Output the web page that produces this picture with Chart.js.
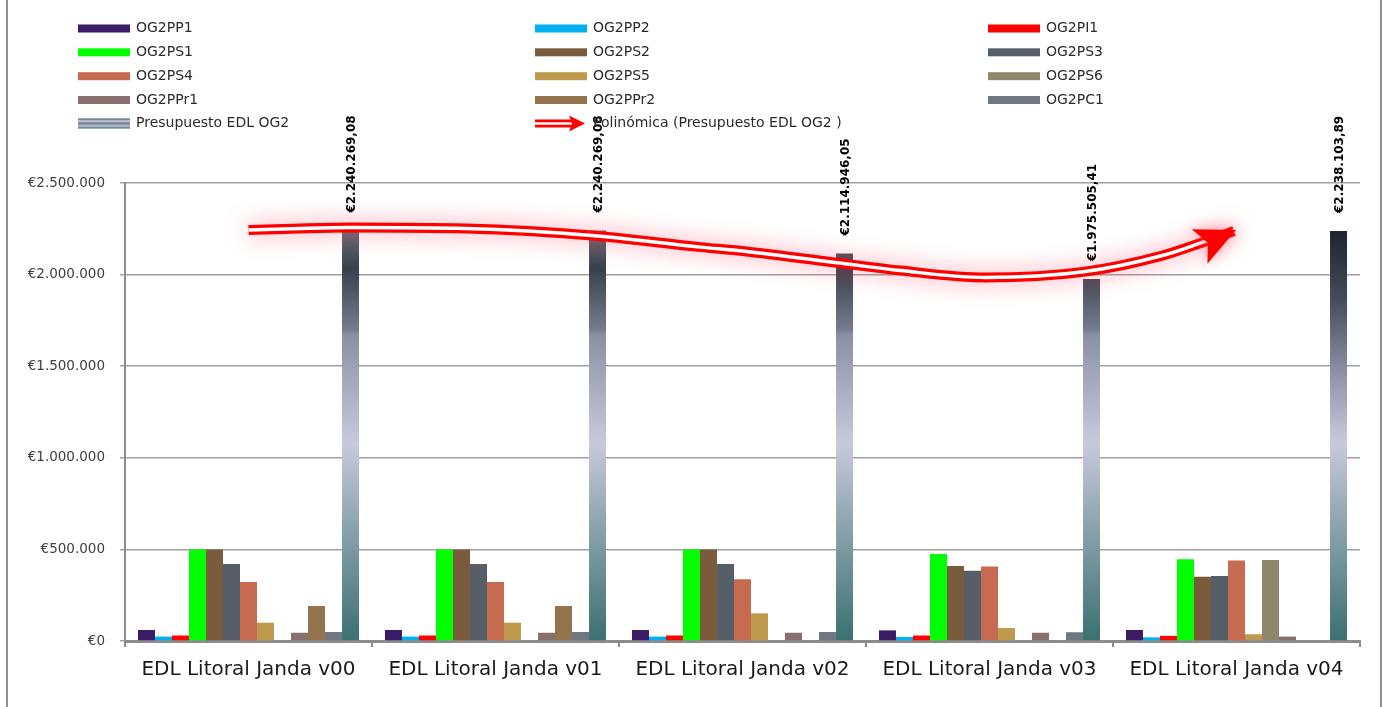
<!DOCTYPE html>
<html><head><meta charset="utf-8">
<script src="https://cdn.jsdelivr.net/npm/chart.js@4.4.1/dist/chart.umd.min.js"></script>
<style>
html,body{margin:0;padding:0;background:#fff;}
#wrap{position:absolute;left:0;top:0;width:1391px;height:707px;}
#frame{position:absolute;left:6px;top:-4px;width:1372px;height:720px;border:2px solid #8f8f8f;pointer-events:none;}
</style>
</head><body>
<div id="wrap"><canvas id="c"></canvas></div><div id="frame"></div>
<script>
// ---------- data ----------
const categories = ['EDL Litoral Janda v00','EDL Litoral Janda v01','EDL Litoral Janda v02','EDL Litoral Janda v03','EDL Litoral Janda v04'];
const seriesNames = ['OG2PP1','OG2PP2','OG2PI1','OG2PS1','OG2PS2','OG2PS3','OG2PS4','OG2PS5','OG2PS6','OG2PPr1','OG2PPr2','OG2PC1'];
const og2pp1  = [60000, 60000, 60000, 58000, 60000];
const og2pp2  = [24000, 24000, 24000, 22000, 20000];
const og2pi1  = [30000, 30000, 30000, 30000, 28000];
const og2ps1  = [500000, 500000, 500000, 475000, 446000];
const og2ps2  = [500000, 500000, 500000, 410000, 351000];
const og2ps3  = [420000, 420000, 420000, 384000, 355000];
const og2ps4  = [322000, 322000, 337000, 406000, 440000];
const og2ps5  = [100000, 100000, 151000, 71000, 37000];
const og2ps6  = [0, 0, 0, 0, 442000];
const og2ppr1 = [45000, 45000, 45000, 45000, 24000];
const og2ppr2 = [191000, 191000, 0, 0, 0];
const og2pc1  = [49000, 49000, 49000, 48000, 0];
const presupuestoLabel = 'Presupuesto EDL OG2';
const presupuesto = [2240269.08, 2240269.08, 2114946.05, 1975505.41, 2238103.89];
const trendLabel = 'Polinómica (Presupuesto EDL OG2 )';
// trend curve (x in category units, 0 = first category centre)
const trendX = [0, 0.21, 0.41, 0.88, 1.39, 1.83, 2.0, 2.41, 2.64, 2.985, 3.38, 3.7, 3.85, 3.99];
const trendY = [2243000, 2252000, 2257000, 2251000, 2213000, 2150000, 2129000, 2060000, 2022000, 1984000, 2015000, 2104000, 2170000, 2238000];
const yTickValues = [0, 500000, 1000000, 1500000, 2000000, 2500000];

// ---------- styles ----------
const seriesValues = [og2pp1, og2pp2, og2pi1, og2ps1, og2ps2, og2ps3, og2ps4, og2ps5, og2ps6, og2ppr1, og2ppr2, og2pc1];
const seriesColors = ['#3b1a66','#00b0f0','#ff0000','#00ff00','#7a5c3c','#565f68','#c66a50','#c09a4c','#8e876a','#8a706c','#94744c','#6f7880'];
const FONT = "'DejaVu Sans', sans-serif";

const stopsFirst = [[2245000,'#666c76'],[2030000,'#38414b'],[1700000,'#767c8e'],[1672000,'#8a90a2'],[1080000,'#c8cadc'],[660000,'#8fa6b0'],[0,'#3b7070']];
const stopsLast  = [[2240000,'#1c2430'],[1860000,'#454d5c'],[1440000,'#9294aa'],[1080000,'#c8cadc'],[660000,'#8fa6b0'],[0,'#3b7070']];

function presGradient(chart, idx){
  const y = chart.scales.y; const c = chart.ctx;
  const stops = idx === 4 ? stopsLast : stopsFirst;
  const y0 = y.getPixelForValue(2260000), y1 = y.getPixelForValue(0);
  const g = c.createLinearGradient(0, y0, 0, y1);
  stops.forEach(([v,col]) => {
    const t = (y.getPixelForValue(v) - y0) / (y1 - y0);
    g.addColorStop(Math.min(1, Math.max(0, t)), col);
  });
  return g;
}

function fmtTick(v){ return '€' + String(Math.round(v)).replace(/\B(?=(\d{3})+(?!\d))/g, '.'); }
function fmtLabel(v){
  const [i, d] = v.toFixed(2).split('.');
  return '€' + i.replace(/\B(?=(\d{3})+(?!\d))/g, '.') + ',' + d;
}

const datasets = seriesNames.map((n, k) => ({
  type: 'bar', label: n, data: seriesValues[k], backgroundColor: seriesColors[k], borderWidth: 0
}));
datasets.push({
  type: 'bar', label: presupuestoLabel, data: presupuesto, id: 'pres',
  backgroundColor: (ctx) => {
    if (!ctx.chart.chartArea || ctx.dataIndex === undefined) return '#8890a0';
    return presGradient(ctx.chart, ctx.dataIndex);
  },
  borderWidth: 0
});
const trendPoints = trendX.map((x, i) => ({x: x, y: trendY[i]}));
datasets.push({
  type: 'line', label: trendLabel, id: 'trendOuter', data: trendPoints, parsing: false,
  borderColor: '#ff0000', borderWidth: 10, pointRadius: 0, tension: 0.4, cubicInterpolationMode: 'monotone',
  fill: false, order: -1, clip: false
});
datasets.push({
  type: 'line', label: 'trendInner', id: 'trendInner', data: trendPoints, parsing: false,
  borderColor: '#ffffff', borderWidth: 3.5, pointRadius: 0, tension: 0.4, cubicInterpolationMode: 'monotone',
  fill: false, order: -2, clip: false
});

function drawArrow(c, x, y, ang, L, W, notch){
  c.save();
  c.translate(x, y); c.rotate(ang);
  c.beginPath();
  c.moveTo(0, 0); c.lineTo(-L, -W); c.lineTo(-L + notch, 0); c.lineTo(-L, W); c.closePath();
  c.fillStyle = '#ff0000'; c.fill();
  c.restore();
}

const glowPlugin = {
  id: 'glow',
  beforeDatasetDraw(chart, args){
    if (chart.data.datasets[args.index].id === 'trendOuter'){
      chart.ctx.save();
      chart.ctx.shadowColor = 'rgba(255,60,90,0.5)';
      chart.ctx.shadowBlur = 22;
    }
  },
  afterDatasetDraw(chart, args){
    if (chart.data.datasets[args.index].id === 'trendOuter') chart.ctx.restore();
  },
  afterDatasetsDraw(chart){
    const c = chart.ctx;
    const idx = chart.data.datasets.findIndex(d => d.id === 'trendOuter');
    const pts = chart.getDatasetMeta(idx).data;
    const last = pts[pts.length - 1];
    let dx, dy;
    if (last.cp1x !== undefined && (last.x - last.cp1x) !== 0){ dx = last.x - last.cp1x; dy = last.y - last.cp1y; }
    else { const p = pts[pts.length - 2]; dx = last.x - p.x; dy = last.y - p.y; }
    const ang = Math.atan2(dy, dx) - 0.08;
    c.save();
    c.shadowColor = 'rgba(255,60,90,0.5)'; c.shadowBlur = 14;
    drawArrow(c, last.x + 2, last.y - 1, ang, 40, 19, 9);
    c.restore();
    const pi = chart.data.datasets.findIndex(d => d.id === 'pres');
    const meta = chart.getDatasetMeta(pi);
    c.save();
    c.font = 'bold 12px ' + FONT;
    c.fillStyle = '#000';
    c.textAlign = 'left'; c.textBaseline = 'middle';
    meta.data.forEach((bar, i) => {
      c.save();
      c.translate(bar.x + 1, bar.y - 18);
      c.rotate(-Math.PI / 2);
      c.fillText(fmtLabel(presupuesto[i]), 0, 0);
      c.restore();
    });
    c.restore();
  }
};

const legendPlugin = {
  id: 'customLegend',
  afterDraw(chart){
    const c = chart.ctx;
    const cols = [78, 535, 988];
    const rows = [28.5, 52.3, 76.2, 100, 123.5];
    const items = seriesNames.map((n, k) => ({name: n, color: seriesColors[k], kind: 'box'}));
    items.push({name: presupuestoLabel, kind: 'grad'});
    items.push({name: trendLabel, kind: 'trend'});
    c.save();
    c.font = '14px ' + FONT;
    c.textBaseline = 'middle'; c.textAlign = 'left';
    items.forEach((it, k) => {
      const x = cols[k % 3], y = rows[Math.floor(k / 3)];
      if (it.kind === 'box'){
        c.fillStyle = it.color; c.fillRect(x, y - 4, 52, 8);
      } else if (it.kind === 'grad'){
        const g = c.createLinearGradient(0, y - 5, 0, y + 5);
        g.addColorStop(0, '#4a5460'); g.addColorStop(0.25, '#c8cadc'); g.addColorStop(0.5, '#6f7e8c');
        g.addColorStop(0.75, '#c0c4d4'); g.addColorStop(1, '#3b6a70');
        c.fillStyle = g; c.fillRect(x, y - 5, 52, 10);
      } else {
        c.fillStyle = '#ff0000'; c.fillRect(x, y - 4, 38, 8);
        c.fillStyle = '#ffffff'; c.fillRect(x, y - 1.2, 38, 2.4);
        drawArrow(c, x + 50, y, 0, 16, 8, 3);
      }
      c.fillStyle = '#2a2a2a';
      c.fillText(it.name, x + 58, y);
    });
    c.restore();
  }
};

new Chart(document.getElementById('c'), {
  type: 'bar',
  data: { labels: categories, datasets: datasets },
  options: {
    responsive: true, maintainAspectRatio: false, animation: false,
    layout: { padding: { top: 183, right: 31, left: 0, bottom: 0 } },
    datasets: { bar: { categoryPercentage: 0.895, barPercentage: 1.0, grouped: true } },
    plugins: { legend: { display: false }, tooltip: { enabled: false } },
    scales: {
      x: {
        type: 'category', offset: true,
        grid: { display: true, drawOnChartArea: false, drawTicks: true, tickLength: 6, color: '#8c8c8c', lineWidth: 2, offset: true },
        border: { display: true, color: '#8c8c8c', width: 3 },
        ticks: { font: { family: FONT, size: 20 }, color: '#1a1a1a', padding: 11, maxRotation: 0, autoSkip: false },
        afterFit(s){ s.height = 66; }
      },
      y: {
        min: 0, max: 2500000,
        afterBuildTicks(s){ s.ticks = yTickValues.map(v => ({value: v})); },
        grid: { color: '#a0a0a0', lineWidth: 1.5, drawTicks: true, tickLength: 5 },
        border: { display: true, color: '#8c8c8c', width: 2 },
        ticks: { font: { family: FONT, size: 13.5 }, color: '#404040', padding: 15, callback: (v) => fmtTick(v) },
        afterFit(s){ s.width = 125; }
      }
    }
  },
  plugins: [glowPlugin, legendPlugin]
});
</script>
</body></html>
